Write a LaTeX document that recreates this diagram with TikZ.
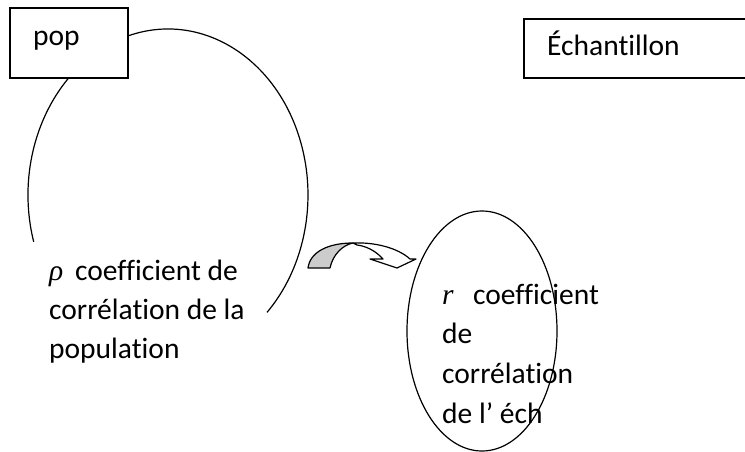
\documentclass[tikz,border=0pt]{standalone}
\usepackage{fontspec}
\setmainfont{Carlito}[Ligatures=NoCommon]
\newfontfamily\serifit{Liberation Serif}
\usetikzlibrary{shapes.geometric}
\begin{document}
\begin{tikzpicture}[x=1pt,y=-1pt,
  box/.style={draw, line width=1.8pt, fill=white, inner sep=0pt, anchor=north west},
  txt/.style={anchor=base west, inner sep=0pt, font=\fontsize{29.5}{39}\selectfont},
  curve/.style={line width=1.2pt},
  arrowshape/.style={draw, line width=1.2pt, line join=round}]
\useasboundingbox (0,0) rectangle (745,452);
\clip (0,0) rectangle (745,452);
% population outline
\coordinate (bigc) at (168,195);
\draw[curve] (bigc) ++(163.6:140 and 166) arc[start angle=163.6, end angle=405, x radius=140, y radius=166];
% boxes
\node (pop) [box, minimum width=118pt, minimum height=70pt] at (9,7) {};
\node (popt) [txt] at (33,46) {pop};
\node (ech) [box, minimum width=240pt, minimum height=59pt] at (523,18) {};
\node (echt) [txt] at (547,56) {Échantillon};
% left text
\node (l1) [txt] at (49,280) {\makebox[26pt][l]{\serifit\itshape ρ}coefficient de};
\node (l2) [txt] at (49,319) {corrélation de la};
\node (l3) [txt] at (49,358) {population};
% sample ellipse
\node (samp) [draw, ellipse, line width=1.2pt, minimum width=150pt, minimum height=240pt, inner sep=0pt] at (482,331) {};
\node (r1) [txt] at (442,304) {\makebox[31pt][l]{\serifit\itshape r}coefficient};
\node (r2) [txt] at (442,343) {de};
\node (r3) [txt] at (442,383) {corrélation};
\node (r4) [txt] at (442,423) {de l’ éch};
% curved block arrow
\path[arrowshape, fill=gray!40] (308,268) .. controls (310,252) and (328,243) .. (353,243) .. controls (343,245) and (333,254) .. (330,268) -- cycle;
\path[arrowshape, fill=white] (353,243) .. controls (375,242) and (398,248) .. (410,259) -- (416,259) -- (397,268) -- (370,259) -- (383,259) .. controls (376,251) and (366,246) .. (357,245) -- cycle;
\end{tikzpicture}
\end{document}
